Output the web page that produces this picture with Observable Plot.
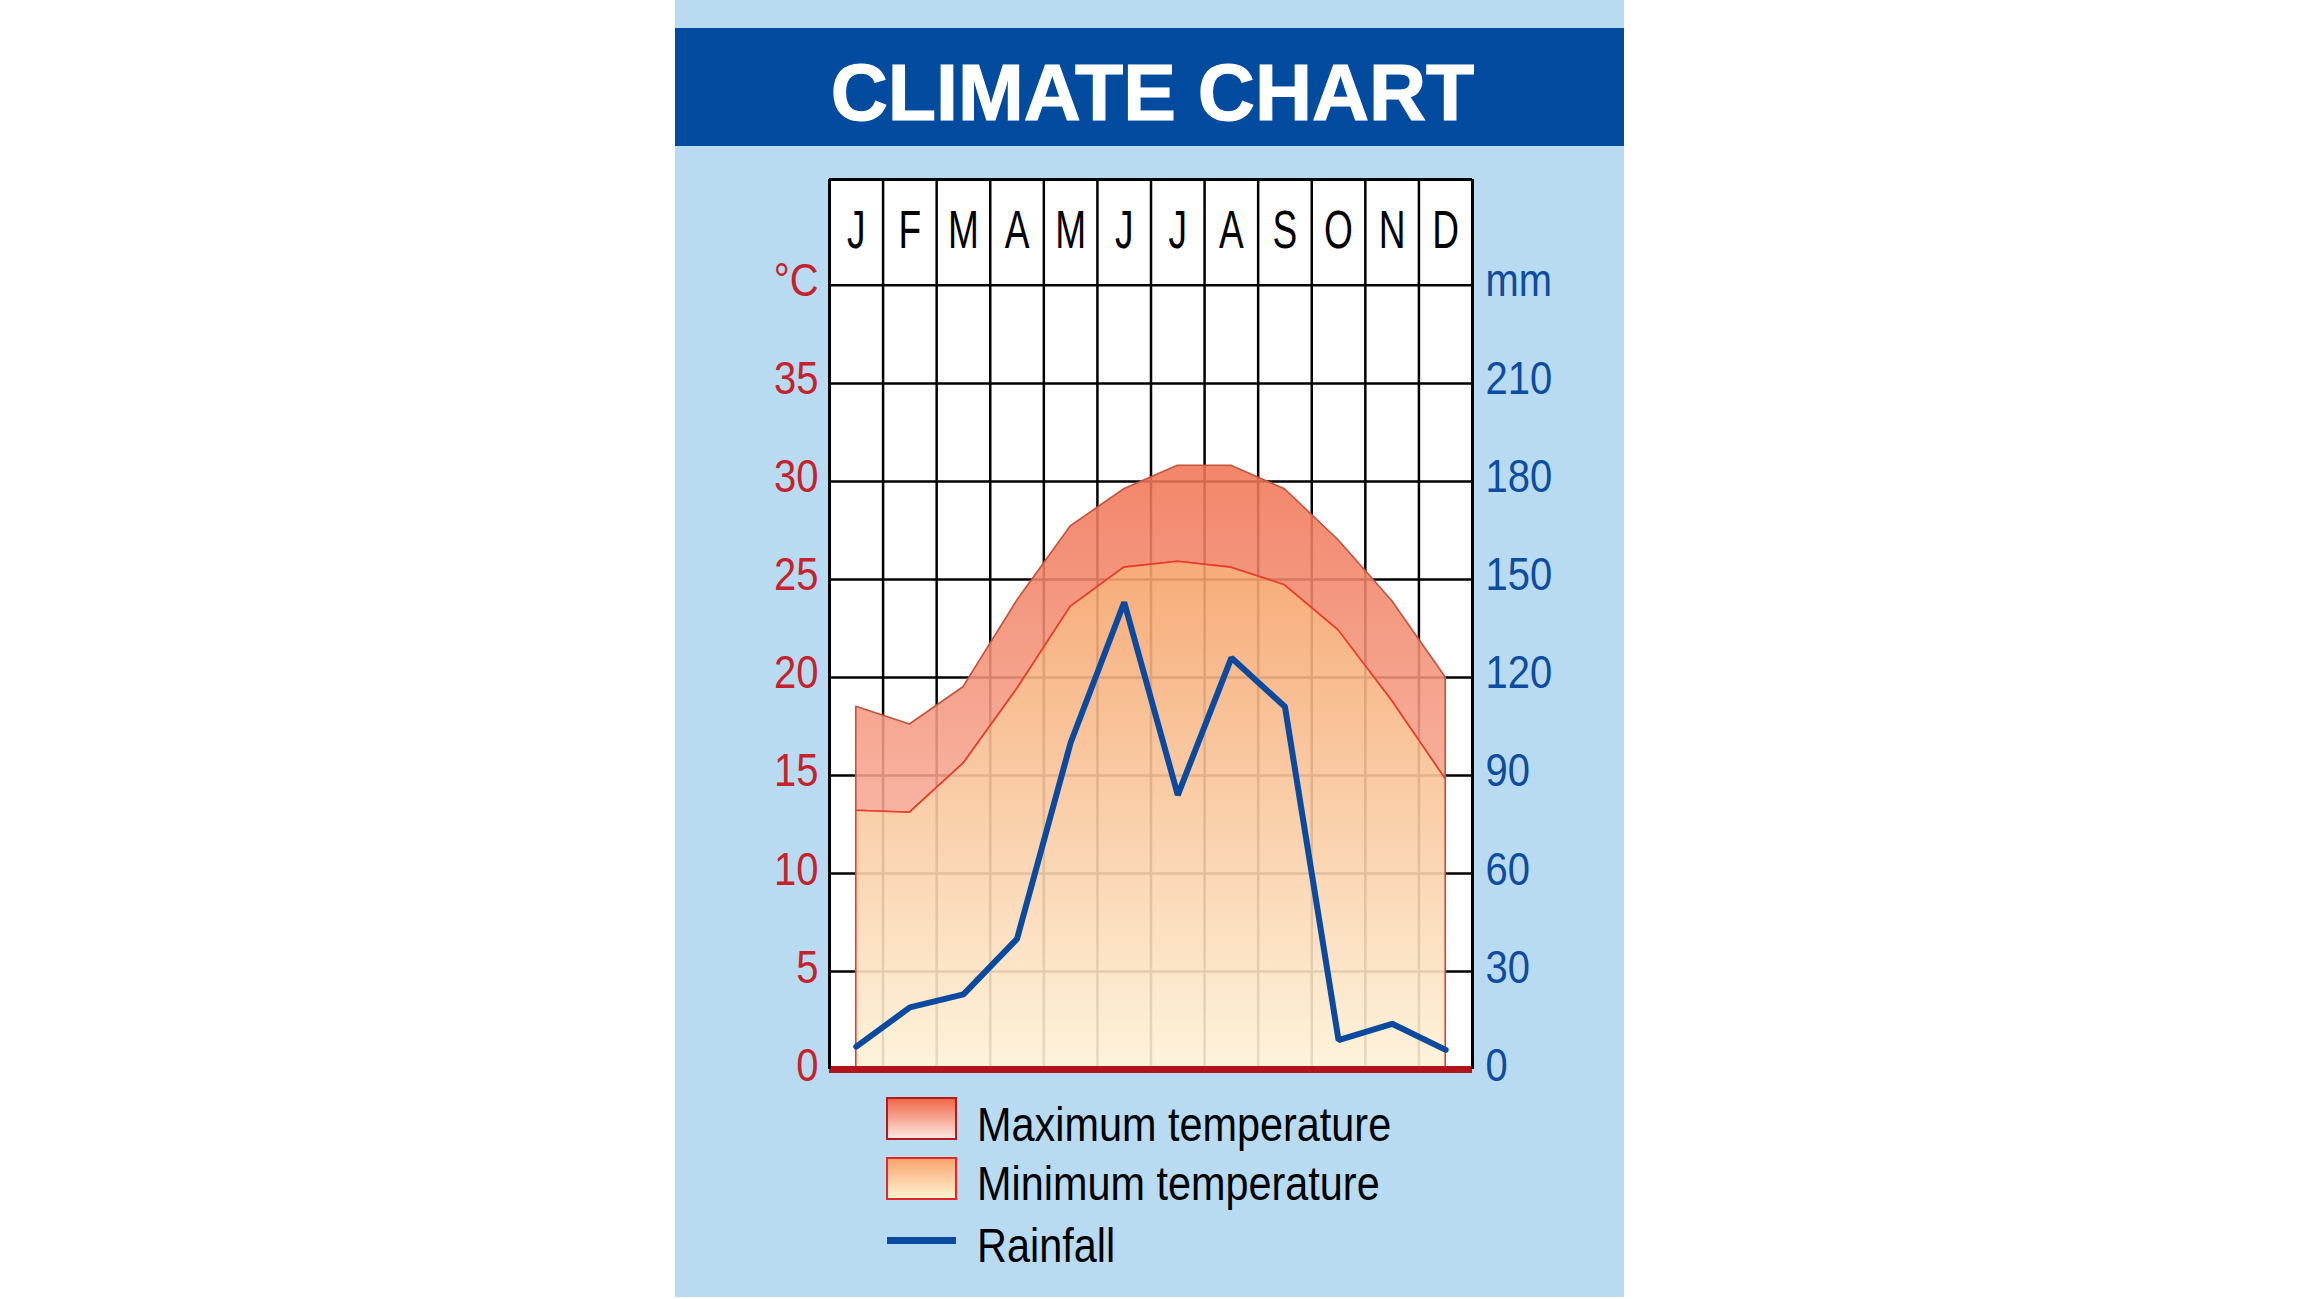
<!DOCTYPE html>
<html><head><meta charset="utf-8">
<script src="https://cdn.jsdelivr.net/npm/d3@7"></script>
<script src="https://cdn.jsdelivr.net/npm/@observablehq/plot@0.6"></script>
<style>
html,body{margin:0;padding:0;background:#fff;}
body{width:2300px;height:1299px;position:relative;overflow:hidden;font-family:"Liberation Sans",Arial,sans-serif;}
#panel{position:absolute;left:675px;top:0;width:949px;height:1297px;background:#b9dbf2;}
#titlebar{position:absolute;left:0;top:28px;width:949px;height:118px;background:#034b9f;}
#title{position:absolute;left:3px;width:949px;top:25px;text-align:center;color:#fff;font-family:"Liberation Sans",Arial,sans-serif;font-weight:bold;font-size:79px;line-height:79px;white-space:nowrap;-webkit-text-stroke:1.2px #fff;}
#chart{position:absolute;left:0;top:150px;}
.sw{position:absolute;left:211px;width:67px;height:39px;}
.lt{position:absolute;left:302px;font-size:49px;line-height:49px;color:#000;white-space:nowrap;transform:scaleX(0.845);transform-origin:0 0;}
</style></head>
<body>
<div id="panel">
  <div id="titlebar"><div id="title">CLIMATE CHART</div></div>
  <div id="chart"></div>
  <div id="legend"></div>
</div>
<script>
// ---- data ----
const months = ["J","F","M","A","M","J","J","A","S","O","N","D"];
const maxTemp = [18.5, 17.6, 19.5, 23.9, 27.7, 29.6, 30.8, 30.8, 29.6, 27.0, 23.9, 20.0];
const minTemp = [13.2, 13.1, 15.6, 19.4, 23.6, 25.6, 25.9, 25.6, 24.7, 22.4, 18.8, 14.8];
const rainfall = [7, 19, 23, 40, 100, 143, 84, 126, 111, 9, 14, 6];
const tempTicks = [0, 5, 10, 15, 20, 25, 30, 35];
const rainTicks = [0, 30, 60, 90, 120, 150, 180, 210];
const tempUnit = "°C";
const rainUnit = "mm";
const legendLabels = ["Maximum temperature", "Minimum temperature", "Rainfall"];

// ---- layout constants ----
const MM_PER_DEG = 6;      // right axis: 30 mm per 5 °C
const HEADER = 40;         // level of month header row bottom
const TOP = 45.4;          // top of the grid
const RED = "#c5222b", BLUE = "#0d4c9f";

const data = months.map((m, i) => ({pos: i + 0.5, month: m, max: maxTemp[i], min: minTemp[i], rain: rainfall[i]}));
const columnBounds = d3.range(months.length + 1);
const gridLevels = [...tempTicks.slice(1), HEADER];

const chart = Plot.plot({
  width: 949, height: 930,
  marginLeft: 154, marginRight: 152, marginTop: 29, marginBottom: 11,
  x: {domain: [0, months.length], axis: null},
  y: {domain: [0, TOP], axis: null},
  style: {background: "transparent", overflow: "visible", fontFamily: '"Liberation Sans",Arial,sans-serif'},
  marks: [
    Plot.frame({fill: "white", stroke: "none"}),
    Plot.ruleY(gridLevels, {x1: 0, x2: months.length, stroke: "#000", strokeWidth: 2.5}),
    Plot.ruleX(columnBounds.slice(1, -1), {y1: 0, y2: TOP, stroke: "#000", strokeWidth: 2.5}),
    Plot.areaY(data, {x: "pos", y1: "min", y2: "max", fill: "url(#gMax)", fillOpacity: 0.88, stroke: "#c4533d", strokeWidth: 1.6}),
    Plot.areaY(data, {x: "pos", y1: 0, y2: "min", fill: "url(#gMin)", fillOpacity: 0.9, stroke: "#ec3b26", strokeWidth: 1.6}),
    Plot.line(data, {x: "pos", y: d => d.rain / MM_PER_DEG, stroke: "#0b4a9f", strokeWidth: 6, strokeLinejoin: "miter"}),
    Plot.ruleY([0], {x1: 0, x2: months.length, stroke: "#b3131b", strokeWidth: 7}),
    Plot.ruleX([0, months.length], {y1: 0, y2: TOP, stroke: "#000", strokeWidth: 3}),
    Plot.ruleY([TOP], {x1: 0, x2: months.length, stroke: "#000", strokeWidth: 3}),
    Plot.text(data, {x: "pos", y: 42.76, text: "month", fontSize: 53, fill: "#000", lineAnchor: "middle"}),
    Plot.axisY([...tempTicks, HEADER], {anchor: "left", tickSize: 0, tickPadding: 11, fontSize: 47, fill: RED, label: null, dy: -4,
      tickFormat: d => d === HEADER ? tempUnit : String(d)}),
    Plot.axisY([...rainTicks.map(v => v / MM_PER_DEG), HEADER], {anchor: "right", tickSize: 0, tickPadding: 13, fontSize: 47, fill: BLUE, label: null, dy: -4,
      tickFormat: d => d === HEADER ? rainUnit : String(Math.round(d * MM_PER_DEG))})
  ]
});

// condensed look: squeeze text horizontally around its anchor
d3.select(chart).selectAll("text").each(function() {
  const isMonth = this.closest('[aria-label="text"]') !== null;
  const s = isMonth ? 0.7 : 0.85;
  let t = this.getAttribute("transform");
  if (!t) {
    const x = +this.getAttribute("x") || 0, y = +this.getAttribute("y") || 0;
    if (this.hasAttribute("x")) this.removeAttribute("x");
    t = `translate(${x},${this.getAttribute("y") && !isNaN(+this.getAttribute("y")) ? y : 0})`;
    if (this.hasAttribute("y") && !isNaN(+this.getAttribute("y"))) this.removeAttribute("y");
  }
  this.setAttribute("transform", t + ` scale(${s},1)`);
});

const ys = chart.scale("y");
const defs = d3.select(chart).insert("defs", ":first-child");
function grad(id, topVal, topColor, bottomColor) {
  const g = defs.append("linearGradient").attr("id", id).attr("gradientUnits", "userSpaceOnUse")
    .attr("x1", 0).attr("x2", 0).attr("y1", ys.apply(topVal)).attr("y2", ys.apply(0));
  g.append("stop").attr("offset", 0).attr("stop-color", topColor);
  g.append("stop").attr("offset", 1).attr("stop-color", bottomColor);
}
grad("gMax", d3.max(maxTemp), "#f07556", "#fbd0c2");
grad("gMin", d3.max(minTemp), "#f6a26a", "#fdf2d8");
document.getElementById("chart").appendChild(chart);

// ---- legend ----
const legend = document.getElementById("legend");
const swatchStyles = [
  {top: 1097, css: "background:linear-gradient(#f06848,#fde6e0);border:2.5px solid #b01c20;"},
  {top: 1157, css: "background:linear-gradient(#f9a56e,#fff2d0);border:2.5px solid #e8262a;"},
  {top: 1237, css: "background:#0b4a9f;height:7px;width:69px;border:none;left:212px;"}
];
const textTops = [1100, 1158.5, 1221];
legendLabels.forEach((label, i) => {
  const sw = document.createElement("div");
  sw.className = "sw";
  sw.style.cssText = "top:" + swatchStyles[i].top + "px;" + swatchStyles[i].css;
  legend.appendChild(sw);
  const t = document.createElement("div");
  t.className = "lt";
  t.style.top = textTops[i] + "px";
  t.textContent = label;
  legend.appendChild(t);
});
</script>
</body></html>
